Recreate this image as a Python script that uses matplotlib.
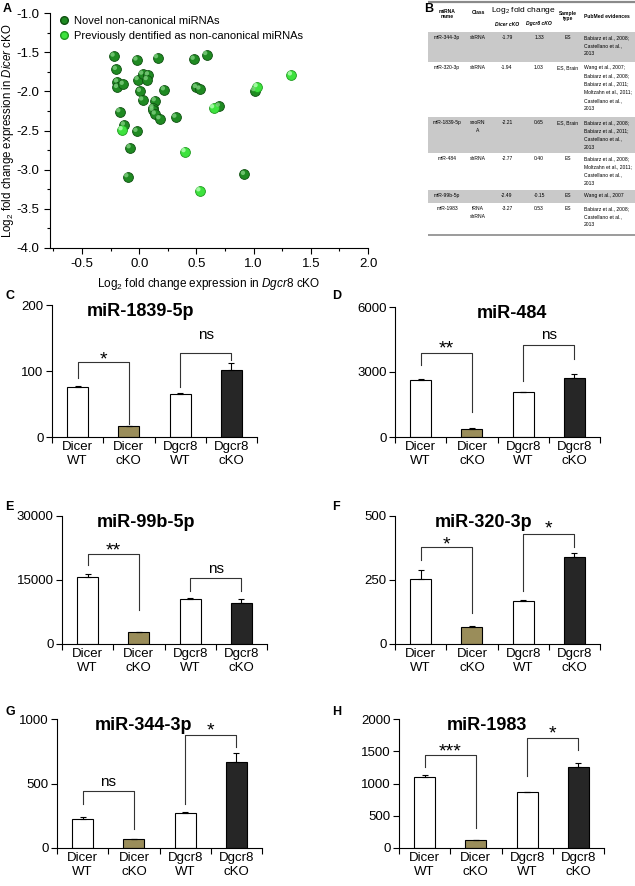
import matplotlib
matplotlib.use('Agg')
import matplotlib.pyplot as plt
import matplotlib.transforms as mtransforms
from matplotlib.lines import Line2D

plt.rcParams['font.family'] = ['Liberation Sans', 'DejaVu Sans']
plt.rcParams['mathtext.fontset'] = 'custom'
plt.rcParams['mathtext.rm'] = 'Liberation Sans'
plt.rcParams['mathtext.it'] = 'Liberation Sans:italic'
plt.rcParams['mathtext.bf'] = 'Liberation Sans:bold'

# ---- panel A : log2 fold change, Dgcr8 cKO (x) vs Dicer cKO (y)
novel_dgcr8 = [-0.22, -0.20, -0.19, -0.19, -0.14, -0.17, -0.13, -0.02, -0.01, 0.01, 0.03,
               0.03, 0.08, 0.07, -0.02, -0.08, -0.10, 0.16, 0.14, 0.12, 0.12, 0.14, 0.18,
               0.22, 0.32, 0.48, 0.59, 0.50, 0.53, 0.70, 0.92, 1.01]
novel_dicer = [-1.55, -1.72, -1.88, -1.95, -1.91, -2.26, -2.43, -1.60, -1.85, -2.00, -2.11,
               -1.78, -1.79, -1.85, -2.51, -2.72, -3.09, -1.57, -2.12, -2.21, -2.24, -2.29, -2.35,
               -1.98, -2.33, -1.59, -1.53, -1.95, -1.97, -2.19, -3.06, -1.99]
prev_dgcr8 = [1.33, 1.03, 0.65, 0.40, -0.15, 0.53]
prev_dicer = [-1.79, -1.94, -2.21, -2.77, -2.49, -3.27]

# ---- panel B : table
tab_names = ['miR-344-3p', 'miR-320-3p', 'miR-1839-5p', 'miR-484', 'miR-99b-5p', 'miR-1983']
tab_class = ['shRNA', 'shRNA', 'snoRN\nA', 'shRNA', '', 'tRNA\nshRNA']
tab_dicer = ['-1.79', '-1.94', '-2.21', '-2.77', '-2.49', '-3.27']
tab_dgcr8 = ['1.33', '1.03', '0.65', '0.40', '-0.15', '0.53']
tab_sample = ['ES', 'ES, Brain', 'ES, Brain', 'ES', 'ES', 'ES']
tab_refs = ['Babiarz et al., 2008;\nCastellano et al.,\n2013',
            'Wang et al., 2007;\nBabiarz et al., 2008;\nBabiarz et al., 2011;\nMoltzahn et al., 2011;\nCastellano et al.,\n2013',
            'Babiarz et al., 2008;\nBabiarz et al., 2011;\nCastellano et al.,\n2013',
            'Babiarz et al., 2008;\nMoltzahn et al., 2011;\nCastellano et al.,\n2013',
            'Wang et al., 2007',
            'Babiarz et al., 2008;\nCastellano et al.,\n2013']

# ---- panels C-H : bar charts
groups = ['Dicer\nWT', 'Dicer\ncKO', 'Dgcr8\nWT', 'Dgcr8\ncKO']
panel_letters = ['C', 'D', 'E', 'F', 'G', 'H']
mirnas = ['miR-1839-5p', 'miR-484', 'miR-99b-5p', 'miR-320-3p', 'miR-344-3p', 'miR-1983']
means = [[76, 16, 65, 102],
         [2630, 390, 2060, 2720],
         [15600, 2700, 10650, 9550],
         [253, 67, 168, 339],
         [222, 67, 271, 669],
         [1100, 122, 866, 1250]]
errs = [[2, 0.5, 2, 10],
        [60, 30, 10, 190],
        [800, 100, 200, 1000],
        [35, 3, 3, 16],
        [15, 2, 10, 67],
        [30, 5, 5, 65]]
ymax = [200, 6000, 30000, 500, 1000, 2000]
ystep = [100, 3000, 15000, 250, 500, 500]
# significance brackets: (left bar, right bar, bracket y, left leg end, right leg end, label, label centre)
brackets = [[(0, 1, 113, 89, 20, '*', 127), (2, 3, 127, 76, 117, 'ns', 155)],
            [(0, 1, 3890, 3345, 1170, '**', 4355), (2, 3, 4230, 2570, 3610, 'ns', 4700)],
            [(0, 1, 21060, 18490, 7970, '**', 23390), (2, 3, 15540, 12510, 12510, 'ns', 17560)],
            [(0, 1, 377, 328, 123, '*', 412), (2, 3, 431, 208, 380, '*', 477)],
            [(0, 1, 439, 344, 147, 'ns', 509), (2, 3, 879, 344, 783, '*', 956)],
            [(0, 1, 1447, 1256, 310, '***', 1587), (2, 3, 1705, 1111, 1525, '*', 1876)]]
bar_colors = ['white', '#9a8d5a', 'white', '#262626']

W, H = 635, 886
fig = plt.figure(figsize=(W / 100, H / 100), dpi=100)


def px_axes(x0, y0, x1, y1):
    return fig.add_axes([x0 / W, 1 - y1 / H, (x1 - x0) / W, (y1 - y0) / H])


# ---------------- A
ax = px_axes(50, 13, 368, 248)


def spheres(ax, xs, ys, base, edge, hi):
    ax.scatter(xs, ys, s=50, color=base, edgecolors=edge, linewidths=0.6, zorder=3)
    off = mtransforms.offset_copy(ax.transData, fig=fig, x=-1.1, y=1.1, units='points')
    ax.scatter(xs, ys, s=10, color=hi, edgecolors='none', alpha=0.8, transform=off, zorder=4)


spheres(ax, novel_dgcr8, novel_dicer, '#1f8a22', '#0e4f10', '#7fd07f')
spheres(ax, prev_dgcr8, prev_dicer, '#3ee23e', '#1f9a1f', '#b8ffb8')
ax.set_xlim(-0.78, 2.0)
ax.set_ylim(-4.0, -1.0)
ax.set_xticks([-0.5, 0.0, 0.5, 1.0, 1.5, 2.0])
ax.set_xticks([-0.75, -0.25, 0.25, 0.75, 1.25, 1.75], minor=True)
ax.set_yticks([-4.0, -3.5, -3.0, -2.5, -2.0, -1.5, -1.0])
ax.set_yticks([-3.75, -3.25, -2.75, -2.25, -1.75, -1.25], minor=True)
ax.xaxis.set_major_formatter(matplotlib.ticker.FormatStrFormatter('%.1f'))
ax.yaxis.set_major_formatter(matplotlib.ticker.FormatStrFormatter('%.1f'))
for s in ['top', 'right']:
    ax.spines[s].set_visible(False)
ax.tick_params(labelsize=9.5, length=4, width=0.8)
ax.tick_params(which='minor', length=2.5, width=0.8)
ax.set_xlabel(r'Log$_2$ fold change expression in $\it{Dgcr8}$ cKO', fontsize=8.5, labelpad=4)
ax.set_ylabel(r'Log$_2$ fold change expression in $\it{Dicer}$ cKO', fontsize=8.3)
ax.yaxis.set_label_coords(-0.108, 0.5)
handles = [Line2D([], [], marker='o', ls='', color='#1f8a22', mec='#0e4f10', ms=5.5),
           Line2D([], [], marker='o', ls='', color='#3ee23e', mec='#1f9a1f', ms=5.5)]
ax.legend(handles, ['Novel non-canonical miRNAs', 'Previously dentified as non-canonical miRNAs'],
          loc='upper left', bbox_to_anchor=(0.0, 1.02), frameon=False, fontsize=8,
          handletextpad=0.3, labelspacing=0.45, handlelength=1.2, borderaxespad=0.3)
fig.text(3 / W, 1 - 3 / H, 'A', fontsize=9, fontweight='bold', va='top')

# ---------------- B table
fig.text(424 / W, 1 - 3 / H, 'B', fontsize=9, fontweight='bold', va='top')
tx = px_axes(428, 0, 635, 240)
tx.set_xlim(428, 635)
tx.set_ylim(240, 0)
tx.axis('off')
row_edges = [32, 62, 117, 153, 190, 203, 235]
for r in range(6):
    if r % 2 == 0:
        tx.axhspan(row_edges[r], row_edges[r + 1], color='#c9c9c9', lw=0)
tx.plot([428, 635], [2, 2], color='#8a8a8a', lw=1.6)
tx.plot([428, 635], [235, 235], color='#8a8a8a', lw=1.2)
fs = 3.6
cols = [447, 478, 507, 539, 568, 584]
hk = dict(fontsize=fs, fontweight='bold', ha='center', va='center')
tx.text(cols[0], 14, 'miRNA\nname', **hk)
tx.text(cols[1], 12, 'Class', **hk)
tx.text((cols[2] + cols[3]) / 2, 11, r'Log$_2$ fold change', fontsize=6, ha='center', va='center')
tx.text(cols[2], 24, 'Dicer cKO', fontsize=fs, fontweight='bold', style='italic', ha='center', va='center')
tx.text(cols[3], 24, 'Dgcr8 cKO', fontsize=fs, fontweight='bold', style='italic', ha='center', va='center')
tx.text(cols[4], 16, 'Sample\ntype', **hk)
tx.text(cols[5], 16, 'PubMed evidences', fontsize=fs, fontweight='bold', ha='left', va='center')
for r in range(6):
    yt = row_edges[r] + 3
    kw = dict(fontsize=fs, va='top', linespacing=1.8)
    tx.text(cols[0], yt, tab_names[r], ha='center', **kw)
    tx.text(cols[1], yt, tab_class[r], ha='center', **kw)
    tx.text(cols[2], yt, tab_dicer[r], ha='center', **kw)
    tx.text(cols[3], yt, tab_dgcr8[r], ha='center', **kw)
    tx.text(cols[4], yt, tab_sample[r], ha='center', **kw)
    tx.text(cols[5], yt, tab_refs[r], ha='left', **kw)

# ---------------- C-H bars
boxes = [(52, 305, 257, 437), (395, 307, 600, 437),
         (62, 516, 267, 644), (395, 516, 600, 644),
         (57, 719, 262, 848), (399, 719, 604, 848)]
letter_pos = [(5, 296), (332, 296), (5, 507), (332, 507), (5, 712), (332, 712)]
title_x = [0.43, 0.57, 0.41, 0.43, 0.42, 0.43]
for k in range(6):
    x0, y0, x1, y1 = boxes[k]
    ax = px_axes(x0, y0, x1, y1)
    xs = range(4)
    ax.bar(xs, means[k], width=0.41, color=bar_colors, edgecolor='black', linewidth=0.8, zorder=2)
    ax.errorbar(xs, means[k], yerr=[[0] * 4, errs[k]], fmt='none', ecolor='black',
                elinewidth=0.8, capsize=2.5, capthick=0.8, zorder=3)
    ax.set_xlim(-0.5, 3.5)
    ax.set_ylim(0, ymax[k])
    ax.set_yticks(range(0, ymax[k] + 1, ystep[k]))
    ax.set_xticks(list(xs))
    ax.set_xticklabels(groups)
    ax.set_xticks([-0.5, 0.5, 1.5, 2.5, 3.5], minor=True)
    ax.tick_params(axis='x', which='major', length=0, labelsize=9.5, pad=3)
    ax.tick_params(axis='x', which='minor', length=4, width=0.8)
    ax.tick_params(axis='y', labelsize=9.5, length=4, width=0.8, pad=2)
    for s in ['top', 'right']:
        ax.spines[s].set_visible(False)
    for s in ['left', 'bottom']:
        ax.spines[s].set_linewidth(0.8)
    ax.text(title_x[k], 0.95, mirnas[k], transform=ax.transAxes, fontsize=13,
            fontweight='bold', ha='center', va='center')
    for (i, j, yb, yl, yr, lab, yc) in brackets[k]:
        ax.plot([i, i, j, j], [yl, yb, yb, yr], color='#333333', lw=0.8, zorder=1)
        star = lab.startswith('*')
        fsz = 14 if star else 11
        shift = -0.58 * fsz if star else -0.27 * fsz
        tr = mtransforms.offset_copy(ax.transData, fig=fig, x=0, y=shift, units='points')
        ax.text((i + j) / 2, yc, lab, fontsize=fsz, ha='center', va='baseline', transform=tr)
    lx, ly = letter_pos[k]
    fig.text(lx / W, 1 - ly / H, panel_letters[k], fontsize=9, fontweight='bold', va='center')

fig.savefig('out.png', dpi=100)
